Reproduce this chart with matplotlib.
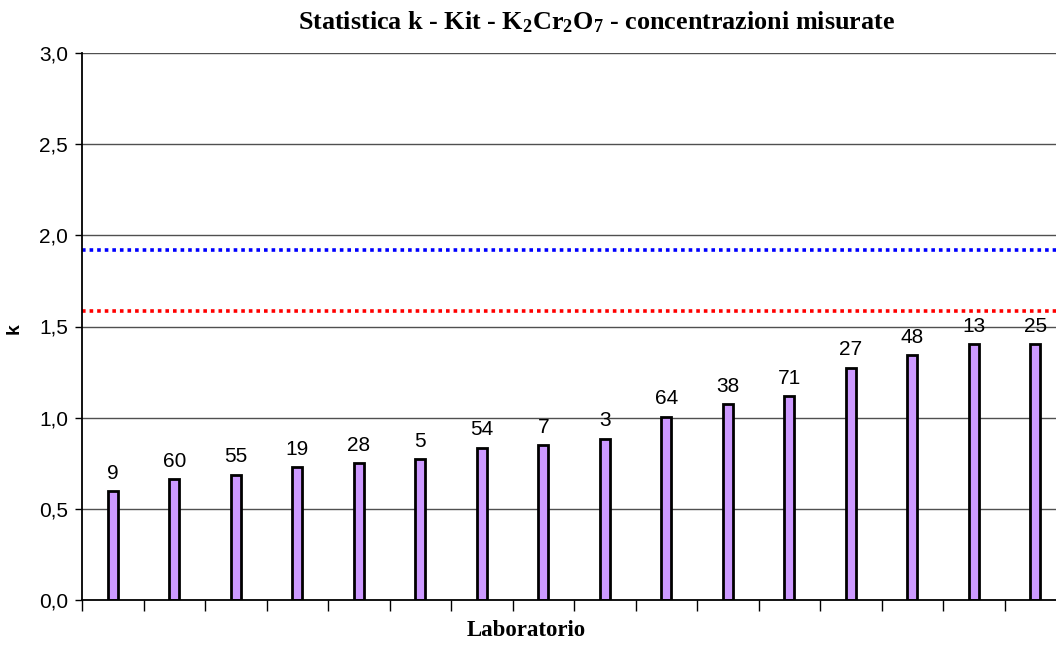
import matplotlib
matplotlib.use("Agg")
import matplotlib.pyplot as plt
import numpy as np

labs = ["9", "60", "55", "19", "28", "5", "54", "7", "3", "64", "38", "71", "27", "48", "13", "25"]
kvals = [0.596, 0.663, 0.687, 0.730, 0.751, 0.774, 0.835, 0.851, 0.884, 1.006, 1.074, 1.118, 1.275, 1.343, 1.403, 1.403]
k_blue = 1.919
k_red = 1.586
yticks = [0.0, 0.5, 1.0, 1.5, 2.0, 2.5, 3.0]

plt.rcParams['mathtext.fontset'] = 'custom'
plt.rcParams['mathtext.rm'] = 'Liberation Serif:bold'
plt.rcParams['mathtext.bf'] = 'Liberation Serif:bold'
plt.rcParams['mathtext.it'] = 'Liberation Serif:bold'

W, H = 1056, 646
fig = plt.figure(figsize=(W / 100, H / 100), dpi=100)
left, right, top, bottom = 82, 82 + 16 * 61.5, 53, 600
ax = fig.add_axes([left / W, (H - bottom) / H, (right - left) / W, (bottom - top) / H])

x = np.arange(len(kvals))
ax.set_xlim(-0.5, len(kvals) - 0.5)
ax.set_ylim(0, 3.0)

for y in yticks[1:]:
    ax.axhline(y, color='#505050', lw=1.0, zorder=1)

ax.axhline(k_blue, color='#0000ff', lw=2.6, ls=(0, (1, 1.1)), zorder=2)
ax.axhline(k_red, color='#ff0000', lw=2.6, ls=(0, (1, 1.1)), zorder=2)

ax.bar(x, kvals, width=0.16, color='#cc99ff', edgecolor='black', linewidth=2.0, zorder=3)

for xi, v, l in zip(x, kvals, labs):
    ax.annotate(l, (xi, v), xytext=(0, 6), textcoords='offset points', ha='center', va='bottom',
                fontsize=15, family='Liberation Sans', zorder=4)

ax.set_yticks(yticks)
ax.set_yticklabels([f"{t:.1f}".replace('.', ',') for t in yticks], fontsize=15, family='Liberation Sans')
ax.set_xticks(np.arange(len(kvals) + 1) - 0.5)
ax.set_xticklabels([])
ax.tick_params(axis='y', length=5, width=1, pad=5)
ax.tick_params(axis='x', length=8, width=1)

for s in ['top', 'right']:
    ax.spines[s].set_visible(False)
for s in ['left', 'bottom']:
    ax.spines[s].set_color('black')
    ax.spines[s].set_linewidth(1.3)
ax.spines['bottom'].set_zorder(5)

fig.text(298 / W, 1 - 29.5 / H, r'Statistica k - Kit - K$_2$Cr$_2$O$_7$ - concentrazioni misurate',
         ha='left', va='baseline', fontsize=18.8, family='Liberation Serif', fontweight='bold')
fig.text(526 / W, 1 - 630 / H, 'Laboratorio', ha='center', va='center', fontsize=16.5,
         family='Liberation Serif', fontweight='bold')
fig.text(14 / W, 1 - 329 / H, 'k', ha='center', va='center', fontsize=14, rotation=90,
         family='Liberation Sans', fontweight='bold')

fig.savefig('out.png', dpi=100)
